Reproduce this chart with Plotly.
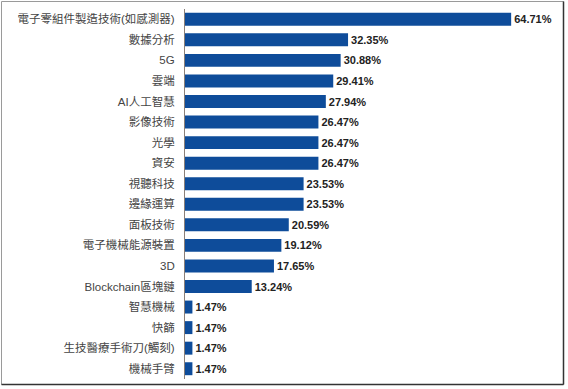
import plotly.graph_objects as go

categories = [
    "電子零組件製造技術(如感測器)", "數據分析", "5G", "雲端", "AI人工智慧",
    "影像技術", "光學", "資安", "視聽科技", "邊緣運算", "面板技術",
    "電子機械能源裝置", "3D", "Blockchain區塊鏈", "智慧機械", "快篩",
    "生技醫療手術刀(觸刻)", "機械手臂",
]
values = [64.71, 32.35, 30.88, 29.41, 27.94, 26.47, 26.47, 26.47, 23.53,
          23.53, 20.59, 19.12, 17.65, 13.24, 1.47, 1.47, 1.47, 1.47]

font_family = "Arial, 'Liberation Sans', 'Noto Sans CJK TC', sans-serif"

W, H = 568, 389
ML, MR, MT, MB = 185, 8, 9, 10
PW, PH = W - ML - MR, H - MT - MB

fig = go.Figure(go.Bar(
    x=values,
    y=categories,
    orientation="h",
    marker=dict(color="#0E4C9A", line=dict(width=0)),
    width=0.63,
    text=[f"<b>{v:.2f}%</b>" for v in values],
    textposition="outside",
    textfont=dict(family=font_family, size=11, color="#222222"),
    cliponaxis=False,
    hoverinfo="skip",
))

fig.update_layout(
    width=W, height=H,
    margin=dict(l=ML, r=MR, t=MT, b=MB),
    paper_bgcolor="white",
    plot_bgcolor="white",
    showlegend=False,
    font=dict(family=font_family),
    xaxis=dict(range=[0, 74.4], showgrid=False, zeroline=False,
               showticklabels=False, showline=False, fixedrange=True),
    yaxis=dict(autorange="reversed", showgrid=False, zeroline=False,
               showline=True, linecolor="#8a7f78", linewidth=1,
               ticks="", ticklabelstandoff=7, fixedrange=True,
               tickfont=dict(family=font_family, size=11.5, color="#444444")),
    shapes=[
        # frame around the whole picture
        dict(type="rect", xref="paper", yref="paper",
             x0=(1.5 - ML) / PW, x1=(W - 4.5 - ML) / PW,
             y0=-(MB - 4.5) / PH, y1=1 + (MT - 1.5) / PH,
             line=dict(color="#9a9a9a", width=1)),
        # darker right and bottom edges
        dict(type="line", xref="paper", yref="paper",
             x0=(W - 4.5 - ML) / PW, x1=(W - 4.5 - ML) / PW,
             y0=-(MB - 4.5) / PH, y1=1 + (MT - 1.5) / PH,
             line=dict(color="#333333", width=1.5)),
        dict(type="line", xref="paper", yref="paper",
             x0=(1.5 - ML) / PW, x1=(W - 4.5 - ML) / PW,
             y0=-(MB - 4.5) / PH, y1=-(MB - 4.5) / PH,
             line=dict(color="#333333", width=1.5)),
    ],
)

fig.write_html("out.html", config={"displayModeBar": False},
               post_script="document.body.style.margin='0';")
